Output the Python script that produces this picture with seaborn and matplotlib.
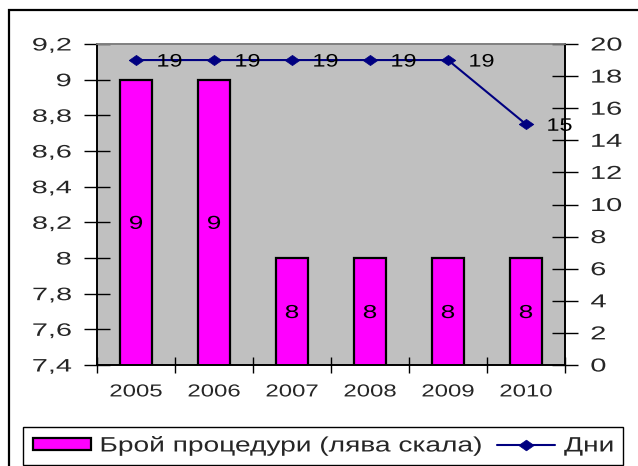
import numpy as np
import pandas as pd
import matplotlib
matplotlib.use("Agg")
import matplotlib.pyplot as plt
import seaborn as sns
from matplotlib.ticker import MultipleLocator, FuncFormatter, FixedLocator
from matplotlib.patches import Rectangle, Patch
from matplotlib.lines import Line2D
from matplotlib.patheffects import AbstractPathEffect
from matplotlib.transforms import Affine2D

# data
years = ['2005', '2006', '2007', '2008', '2009', '2010']
procedures = [9, 9, 8, 8, 8, 8]
days = [19, 19, 19, 19, 19, 15]

bar_label = 'Брой процедури (лява скала)'
line_label = 'Дни'

MAGENTA = '#FF00FF'
NAVY = '#000080'
GRAY = '#C0C0C0'
DIAMOND = [(-1, 0), (0, 0.7), (1, 0), (0, -0.7), (-1, 0)]


class StretchX(AbstractPathEffect):
    """Widen text glyphs horizontally (the original chart uses wide lettering)."""

    def __init__(self, sx, anchor='center'):
        super().__init__()
        self._sx = sx
        self._anchor = anchor

    def draw_path(self, renderer, gc, tpath, affine, rgbFace=None):
        ext = tpath.get_extents(affine)
        if self._anchor == 'left':
            x0 = ext.x0
        elif self._anchor == 'right':
            x0 = ext.x1
        else:
            x0 = (ext.x0 + ext.x1) / 2
        stretch = Affine2D().translate(-x0, 0).scale(self._sx, 1).translate(x0, 0)
        renderer.draw_path(gc, tpath, affine + stretch, rgbFace)


sns.set_style('ticks')
plt.rcParams['font.family'] = ['Liberation Sans', 'DejaVu Sans']

df = pd.DataFrame({'year': years, 'procedures': procedures, 'days': days})

fig = plt.figure(figsize=(6.38, 4.66), dpi=100)
ax = fig.add_axes([97 / 638, 1 - 365 / 466, (565 - 97) / 638, (365 - 44) / 466])
ax.set_facecolor(GRAY)

sns.barplot(data=df, x='year', y='procedures', color=MAGENTA, saturation=1,
            edgecolor='black', linewidth=1.6, width=0.42, ax=ax)

ymin, ymax = 7.4, 9.2
ax.set_ylim(ymin, ymax)
ax.yaxis.set_major_locator(MultipleLocator(0.2))


def comma_fmt(v, pos):
    s = f"{v:.1f}"
    if s.endswith('.0'):
        s = s[:-2]
    return s.replace('.', ',')


ax.yaxis.set_major_formatter(FuncFormatter(comma_fmt))

# labels in the middle of each visible bar
for i, v in enumerate(procedures):
    ax.text(i, (ymin + v) / 2, str(v), ha='center', va='center_baseline', fontsize=13.5,
            color='black', path_effects=[StretchX(1.4)])

ax2 = ax.twinx()
sns.pointplot(data=df, x='year', y='days', color=NAVY, errorbar=None, marker=DIAMOND,
              markersize=10.5, markeredgewidth=0.5, linewidth=1.5, ax=ax2)
ax2.set_ylim(0, 20)
ax2.yaxis.set_major_locator(MultipleLocator(2))
for i, d in enumerate(days):
    ax2.annotate(str(d), (i, d), xytext=(15, 0), textcoords='offset points',
                 ha='left', va='center_baseline', fontsize=13, color='black',
                 path_effects=[StretchX(1.3, 'left')])

ax.set_xlim(-0.5, len(years) - 0.5)
ax.set_xlabel('')
ax.set_ylabel('')
ax2.set_ylabel('')
ax2.set_xlabel('')

# category boundary ticks
ax.xaxis.set_minor_locator(FixedLocator(np.arange(len(years) + 1) - 0.5))
ax.tick_params(axis='x', which='major', length=0, pad=14, labelsize=12.5)
ax.tick_params(axis='x', which='minor', direction='inout', length=11, width=1, color='black')
ax.tick_params(axis='y', direction='inout', length=19, width=1, color='black', pad=9, labelsize=13)
ax2.tick_params(axis='y', direction='inout', length=19, width=1, color='black', pad=9, labelsize=13.5)

for a in (ax, ax2):
    for side in ('left', 'right', 'bottom'):
        a.spines[side].set_visible(True)
        a.spines[side].set_color('black')
        a.spines[side].set_linewidth(1.2)
    a.spines['top'].set_visible(True)
    a.spines['top'].set_color('#808080')
    a.spines['top'].set_linewidth(1.2)

# legend: measure the first label so the widened text keeps its gap
leg_fs = 15
leg_px = leg_fs * 100 / 72
sx_leg = 1.35
probe = fig.text(0, 0, bar_label, fontsize=leg_fs)
fig.canvas.draw()
w1 = probe.get_window_extent().width
probe.remove()

handles = [Patch(facecolor=MAGENTA, edgecolor='black', linewidth=1.6),
           Line2D([], [], color=NAVY, lw=1.5, marker=DIAMOND, markersize=11, markeredgewidth=0.5)]
leg = fig.legend(handles, [bar_label, line_label], loc='center left',
                 bbox_to_anchor=(33 / 638, 1 - 446 / 466), ncol=2,
                 fontsize=leg_fs, frameon=False, handlelength=58 / leg_px,
                 handleheight=0.55, handletextpad=9 / leg_px,
                 columnspacing=((sx_leg - 1) * w1 + 13) / leg_px,
                 borderpad=0, borderaxespad=0)
for t in leg.get_texts():
    t.set_path_effects([StretchX(sx_leg, 'left')])
fig.patches.append(Rectangle((22.7 / 638, 1 - 465 / 466), 600.3 / 638, 38 / 466,
                             transform=fig.transFigure, fill=False,
                             edgecolor='black', linewidth=1.0))

# outer chart frame (cropped at right and bottom)
fig.patches.append(Rectangle((9 / 638, -0.1), 1.2, 1.1 - 10 / 466, transform=fig.transFigure,
                             fill=False, edgecolor='black', linewidth=1.6))

# widen the tick labels like the original lettering
fig.canvas.draw()
for lbl in ax.get_yticklabels():
    lbl.set_path_effects([StretchX(1.6, 'right')])
for lbl in ax2.get_yticklabels():
    lbl.set_path_effects([StretchX(1.55, 'left')])
for lbl in ax.get_xticklabels():
    lbl.set_path_effects([StretchX(1.38)])

fig.savefig('out.png', dpi=100)
